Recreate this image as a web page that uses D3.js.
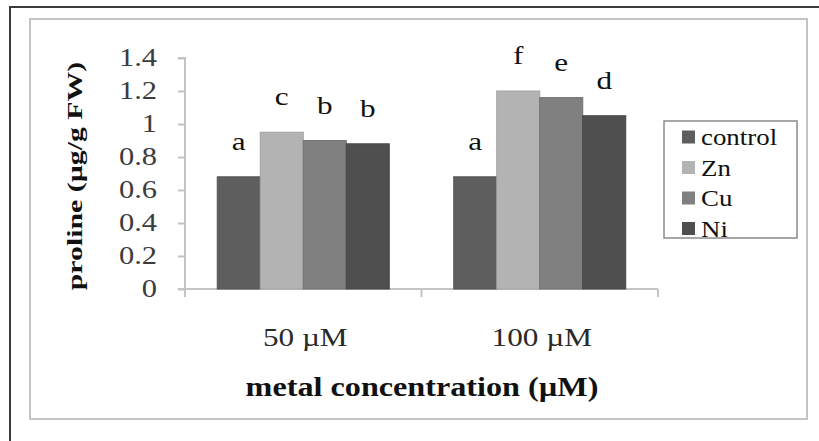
<!DOCTYPE html>
<html>
<head>
<meta charset="utf-8">
<script src="https://cdn.jsdelivr.net/npm/d3@7/dist/d3.min.js"></script>
<style>
  html, body { margin: 0; padding: 0; background: #fff; }
  svg { display: block; }
</style>
</head>
<body>
<svg id="chart" width="819" height="441"></svg>
<script>
// ---- data ----
const categories = ["50 µM", "100 µM"];
const seriesNames = ["control", "Zn", "Cu", "Ni"];
const seriesColors = ["#5e5e5e", "#b3b3b3", "#808080", "#4f4f4f"];
const controlValues = [0.68, 0.68];
const znValues = [0.95, 1.20];
const cuValues = [0.90, 1.16];
const niValues = [0.88, 1.05];
const letters50 = ["a", "c", "b", "b"];
const letters100 = ["a", "f", "e", "d"];
const yTicks = [0, 0.2, 0.4, 0.6, 0.8, 1, 1.2, 1.4];
const yTitle = "proline (µg/g FW)";
const xTitle = "metal concentration (µM)";

const seriesValues = [controlValues, znValues, cuValues, niValues];
const lettersByCat = [letters50, letters100];
const rows = [];
categories.forEach((c, ci) => {
  seriesNames.forEach((s, si) => {
    rows.push({cat: c, series: s, value: seriesValues[si][ci], letter: lettersByCat[ci][si], color: seriesColors[si]});
  });
});

const FONT = "'Liberation Serif', 'Times New Roman', Times, serif";

// ---- layout ----
const svg = d3.select("#chart");
const plot = {left: 185, right: 658, top: 58, bottom: 289};

function txt(parent, x, y, s, o) {
  const g = parent.append("g").attr("transform", `translate(${x},${y})` + (o.rot ? ` rotate(${o.rot})` : "") + ` scale(${o.sx || 1},1)`);
  return g.append("text")
    .attr("font-family", FONT)
    .style("font-family", FONT)
    .attr("text-anchor", o.anchor || "middle")
    .attr("font-size", o.size)
    .attr("font-weight", o.weight || "normal")
    .attr("fill", o.fill || "#000")
    .text(s);
}

svg.append("rect").attr("x", 10).attr("y", 7).attr("width", 830).attr("height", 460)
  .attr("fill", "none").attr("stroke", "#3a3a3a").attr("stroke-width", 2);
svg.append("rect").attr("x", 30).attr("y", 19).attr("width", 777).attr("height", 400)
  .attr("fill", "#fff").attr("stroke", "#c4c4c4").attr("stroke-width", 2);

const x0 = d3.scaleBand().domain(categories).range([plot.left, plot.right]).paddingInner(0).paddingOuter(0);
const groupFrac = 4 / 5.5;
const x1 = d3.scaleBand().domain(seriesNames).range([0, x0.bandwidth() * groupFrac]).padding(0);
const y = d3.scaleLinear().domain([0, 1.4]).range([plot.bottom, plot.top]);

const yAxis = svg.append("g").attr("transform", `translate(${plot.left},0)`)
  .call(d3.axisLeft(y).tickValues(yTicks).tickSize(7).tickFormat(""));
yAxis.select(".domain").attr("stroke", "#c4c4c4").attr("stroke-width", 2).attr("d", `M-7,${plot.top}H0V${plot.bottom + 8}`);
yAxis.selectAll(".tick line").attr("stroke", "#c4c4c4").attr("stroke-width", 2);

yTicks.forEach(t => {
  txt(svg, 157, y(t) + 8, d3.format("")(t), {size: 25, sx: 1.22, anchor: "end", fill: "#3c3c3c"});
});

const xAxisG = svg.append("g").attr("transform", `translate(0,${plot.bottom})`);
xAxisG.append("line").attr("x1", plot.left - 7).attr("x2", plot.right).attr("y1", 0).attr("y2", 0)
  .attr("stroke", "#c4c4c4").attr("stroke-width", 2);
const xTickPos = [plot.left, ...categories.map(c => x0(c) + x0.bandwidth())];
xAxisG.selectAll("line.xt").data(xTickPos).enter().append("line").attr("class", "xt")
  .attr("x1", d => d).attr("x2", d => d).attr("y1", 0).attr("y2", 8)
  .attr("stroke", "#c4c4c4").attr("stroke-width", 2);

categories.forEach(c => {
  txt(svg, x0(c) + x0.bandwidth() / 2 + 2, 346, c, {size: 26, sx: 1.2, fill: "#2a2a2a"});
});

const offset = x0.bandwidth() * (1 - groupFrac) / 2;
svg.append("g").selectAll("rect").data(rows).enter().append("rect")
  .attr("x", d => x0(d.cat) + offset + x1(d.series))
  .attr("y", d => y(d.value))
  .attr("width", x1.bandwidth())
  .attr("height", d => y(0) - y(d.value))
  .attr("fill", d => d.color)
  .attr("stroke", d => d3.color(d.color).darker(0.3))
  .attr("stroke-width", 1);

rows.forEach(d => {
  txt(svg, x0(d.cat) + offset + x1(d.series) + x1.bandwidth() / 2, y(d.value) - 27, d.letter, {size: 26, sx: 1.2, fill: "#111"});
});

txt(svg, 422, 396, xTitle, {size: 28, sx: 1.15, weight: "bold", fill: "#111"});
txt(svg, 82, 176, yTitle, {size: 21, sx: 1.42, weight: "bold", rot: -90, fill: "#111"});

const lg = svg.append("g");
lg.append("rect").attr("x", 664).attr("y", 121).attr("width", 133).attr("height", 117)
  .attr("fill", "#fff").attr("stroke", "#8a8a8a").attr("stroke-width", 1.5);
seriesNames.forEach((s, i) => {
  const cy = 137 + i * 30.5;
  lg.append("rect").attr("x", 682).attr("y", cy - 6.5).attr("width", 13).attr("height", 13)
    .attr("fill", seriesColors[i]);
  txt(lg, 701, cy + 8, s, {size: 24, sx: 1.12, anchor: "start", fill: "#111"});
});
</script>
</body>
</html>
